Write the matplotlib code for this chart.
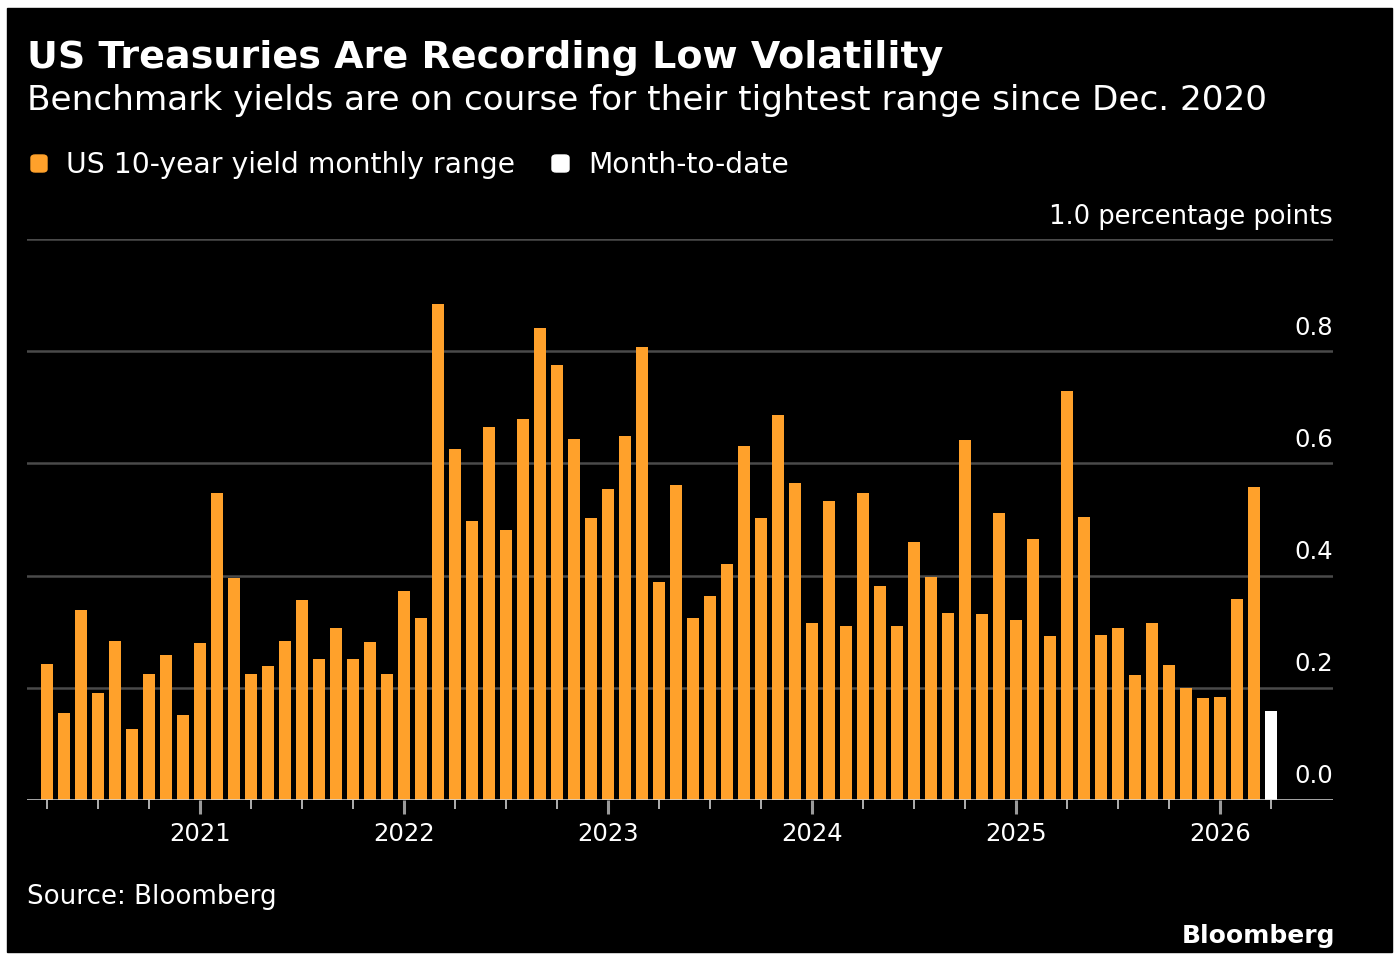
import numpy as np
import pandas as pd
import matplotlib.pyplot as plt
from matplotlib.patches import FancyBboxPatch, Rectangle

# ---- data ----
months = pd.period_range('2020-04', '2026-04', freq='M')   # Apr 2020 .. Apr 2026
monthly_range = [
    0.243, 0.155, 0.338, 0.191, 0.284, 0.127, 0.224, 0.259, 0.151,          # 2020
    0.280, 0.548, 0.396, 0.224, 0.239, 0.284, 0.356, 0.251, 0.306, 0.251, 0.281, 0.225,  # 2021
    0.372, 0.324, 0.885, 0.626, 0.498, 0.664, 0.481, 0.680, 0.841, 0.776, 0.644, 0.502,  # 2022
    0.555, 0.648, 0.808, 0.388, 0.562, 0.324, 0.363, 0.420, 0.631, 0.503, 0.686, 0.565,  # 2023
    0.316, 0.533, 0.311, 0.547, 0.382, 0.311, 0.460, 0.398, 0.334, 0.641, 0.331, 0.512,  # 2024
    0.321, 0.465, 0.293, 0.729, 0.504, 0.295, 0.307, 0.223, 0.315, 0.240, 0.200, 0.181,  # 2025
    0.184, 0.359, 0.558,                                                     # 2026
]
month_to_date = 0.159
y_ticks = [0.0, 0.2, 0.4, 0.6, 0.8]

ORANGE = '#FFA12B'
GRID = '#4a4a4a'
FONT = 'DejaVu Sans'

W, H = 1400, 955


def fx(px):
    return px / W


def fy(py):
    return 1 - py / H


fig = plt.figure(figsize=(W / 100, H / 100), dpi=100, facecolor='white')
# black card with thin white frame
fig.patches.append(Rectangle((fx(7), fy(952)), fx(1392) - fx(7), fy(8) - fy(952),
                             transform=fig.transFigure, color='black', zorder=-10))

ax = fig.add_axes([fx(27), fy(800), fx(1333) - fx(27), fy(239) - fy(800)])
ax.set_facecolor('none')

x = np.arange(len(monthly_range))
ax.bar(x, monthly_range, width=0.76, color=ORANGE, zorder=3)
ax.bar(len(monthly_range), month_to_date, width=0.76, color='white', zorder=3)

# grid lines + baseline
for v in y_ticks[1:] + [1.0]:
    ax.axhline(v, color=GRID, lw=1.8, zorder=1)
ax.axhline(0, color='#d8d8d8', lw=1.8, zorder=4)

ax.set_xlim(-20 / 17, 1286 / 17)
ax.set_ylim(0, 1.0)
for s in ax.spines.values():
    s.set_visible(False)

# quarterly ticks, year labels in January
quarter_pos = [i for i, m in enumerate(months) if m.month in (1, 4, 7, 10)]
year_pos = [i for i, m in enumerate(months) if m.month == 1]
year_labels = [str(months[i].year) for i in year_pos]
ax.set_xticks(year_pos, year_labels)
ax.set_xticks([p for p in quarter_pos if p not in year_pos], minor=True)
ax.tick_params(axis='x', which='major', length=10, width=2.2, color='#9a9a9a',
               pad=6, labelsize=17.5, labelcolor='white')
ax.tick_params(axis='x', which='minor', length=6.5, width=1.3, color='#bdbdbd')
for lbl in ax.get_xticklabels():
    lbl.set_fontfamily(FONT)
ax.set_yticks([])

# y labels sit above the grid lines on the right
for v in y_ticks:
    ax.annotate(f'{v:.1f}', xy=(1.0, v), xycoords=('axes fraction', 'data'),
                xytext=(0, 12), textcoords='offset points', ha='right', va='baseline',
                color='white', fontsize=17.5, family=FONT)
ax.annotate('1.0 percentage points', xy=(1.0, 1.0), xycoords=('axes fraction', 'data'),
            xytext=(0, 11), textcoords='offset points', ha='right', va='baseline',
            color='white', fontsize=18.5, family=FONT)

# titles
fig.text(fx(27), fy(68), 'US Treasuries Are Recording Low Volatility', color='white',
         fontsize=27.4, fontweight='bold', family=FONT, va='baseline')
fig.text(fx(27), fy(110), 'Benchmark yields are on course for their tightest range since Dec. 2020',
         color='white', fontsize=24.7, family=FONT, va='baseline')

# legend
fig.patches.append(FancyBboxPatch((fx(31), fy(172)), fx(47) - fx(31), fy(155) - fy(172),
                                  boxstyle='round,pad=0,rounding_size=0.003',
                                  transform=fig.transFigure, color=ORANGE))
fig.text(fx(66), fy(173), 'US 10-year yield monthly range', color='white', fontsize=20.3,
         family=FONT, va='baseline')
fig.patches.append(FancyBboxPatch((fx(552), fy(172)), fx(569) - fx(552), fy(155) - fy(172),
                                  boxstyle='round,pad=0,rounding_size=0.003',
                                  transform=fig.transFigure, color='white'))
fig.text(fx(588), fy(173), 'Month-to-date', color='white', fontsize=20.3,
         family=FONT, va='baseline')

# footer
fig.text(fx(27), fy(904), 'Source: Bloomberg', color='white', fontsize=18.8,
         family=FONT, va='baseline')
fig.text(fx(1335), fy(943), 'Bloomberg', color='white', fontsize=18, fontweight='bold',
         family=FONT, va='baseline', ha='right')

fig.savefig('out.png', dpi=100, facecolor='white')
